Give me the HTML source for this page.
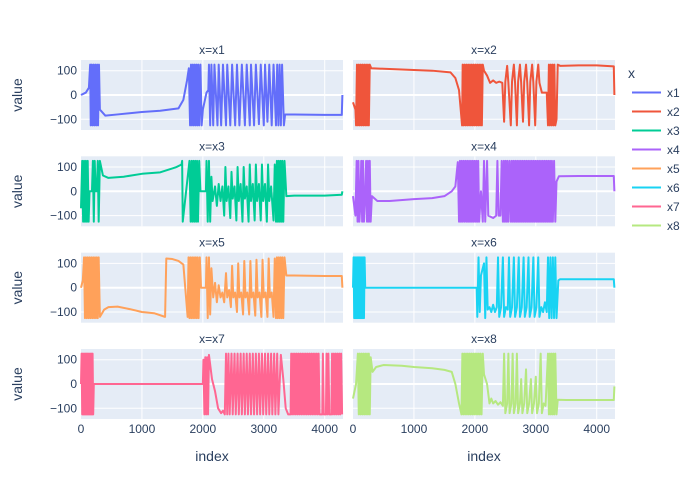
<!DOCTYPE html>
<html><head><meta charset="utf-8">
<style>
body{margin:0;background:#fff;}
svg{display:block;font-family:"Liberation Sans",Arial,sans-serif;}
</style></head>
<body>
<svg id="chart" width="700" height="500"></svg>
<script>
const seriesNames = ["x1","x2","x3","x4","x5","x6","x7","x8"];
const seriesColors = ["#636efa","#EF553B","#00cc96","#ab63fa","#FFA15A","#19d3f3","#FF6692","#B6E880"];
const xTicks = [0,1000,2000,3000,4000];
const yTicks = [-100,0,100];
const yTickLabels = ["−100","0","100"];
const x1Data = [[0,0],[80,10],[130,30],[150,125],[160,-125],[175,125],[190,-125],[205,125],[220,-125],[235,125],[250,-125],[265,125],[280,-125],[295,125],[310,-60],[400,-85],[600,-80],[1000,-70],[1300,-65],[1600,-55],[1680,-20],[1740,60],[1770,110],[1790,-125],[1805,125],[1820,-125],[1835,125],[1850,-125],[1865,125],[1880,-125],[1895,125],[1910,-125],[1925,125],[1940,-125],[1960,125],[1980,-125],[2000,-60],[2060,10],[2090,20],[2100,125],[2120,-125],[2140,125],[2170,-125],[2190,125],[2240,-125],[2260,125],[2300,-125],[2330,125],[2380,-125],[2400,125],[2450,-125],[2480,125],[2530,-125],[2560,125],[2600,-125],[2640,125],[2690,-125],[2720,125],[2770,-125],[2790,125],[2840,-125],[2870,125],[2920,-120],[2950,125],[3000,-125],[3020,125],[3060,-110],[3090,125],[3130,-125],[3160,125],[3200,-125],[3220,125],[3240,-125],[3260,125],[3280,-125],[3300,125],[3330,-125],[3350,-80],[3500,-80],[4000,-82],[4280,-82],[4290,0]];
const x2Data = [[0,-30],[40,-60],[50,-125],[65,125],[80,-125],[95,125],[110,-125],[125,125],[140,-125],[155,125],[170,-125],[185,125],[200,-125],[215,125],[230,-125],[245,125],[260,-125],[275,125],[300,110],[500,108],[1000,103],[1300,100],[1600,93],[1680,70],[1740,20],[1790,-125],[1800,125],[1815,-125],[1830,125],[1845,-125],[1860,125],[1875,-125],[1890,125],[1905,-125],[1920,125],[1935,-125],[1950,125],[1965,-125],[1980,125],[1995,-125],[2010,125],[2025,-125],[2040,125],[2055,-125],[2070,125],[2085,-125],[2100,125],[2115,-125],[2130,125],[2150,100],[2200,80],[2250,50],[2300,60],[2350,50],[2400,55],[2450,50],[2480,-110],[2500,55],[2530,120],[2550,50],[2590,-125],[2610,55],[2640,125],[2660,50],[2690,-125],[2710,55],[2740,125],[2760,50],[2790,-110],[2810,55],[2840,125],[2860,50],[2890,-125],[2910,55],[2940,125],[2960,50],[2990,-125],[3010,55],[3040,125],[3060,50],[3100,10],[3180,10],[3200,-125],[3215,125],[3230,-125],[3245,125],[3260,-125],[3275,125],[3290,-125],[3305,125],[3320,-125],[3340,-100],[3360,125],[3400,120],[3700,122],[4000,122],[4280,118],[4290,0]];
const x3Data = [[0,-70],[20,125],[35,-125],[50,125],[65,-125],[80,125],[95,-125],[110,125],[125,-125],[140,0],[180,0],[195,125],[210,-125],[225,125],[240,0],[260,0],[275,125],[290,-125],[310,125],[360,65],[450,55],[700,60],[1000,72],[1300,78],[1550,98],[1650,110],[1660,125],[1670,-125],[1780,125],[1800,-125],[1815,125],[1830,-125],[1845,125],[1860,-125],[1875,125],[1890,-125],[1905,125],[1920,-125],[1940,125],[1960,0],[2050,0],[2060,125],[2080,-125],[2100,125],[2120,-125],[2140,60],[2160,-40],[2200,20],[2230,-60],[2260,30],[2290,-40],[2320,20],[2350,-100],[2370,100],[2390,-40],[2420,20],[2450,-110],[2470,80],[2490,-30],[2520,20],[2550,-120],[2570,100],[2590,-40],[2620,30],[2650,-125],[2670,100],[2690,-30],[2720,20],[2750,-125],[2770,110],[2790,-40],[2820,30],[2850,-120],[2870,110],[2890,-40],[2920,30],[2950,-120],[2970,110],[2990,-40],[3020,30],[3050,-125],[3070,110],[3090,-40],[3120,20],[3160,-120],[3180,110],[3200,-125],[3215,125],[3230,-125],[3245,125],[3260,-125],[3275,125],[3290,-125],[3305,125],[3320,-125],[3340,125],[3370,-20],[3500,-18],[4000,-18],[4280,-14],[4290,0]];
const x4Data = [[0,-20],[40,-100],[60,125],[75,-125],[90,125],[105,-125],[120,-60],[135,125],[150,-125],[165,125],[180,-125],[200,-20],[215,125],[230,-125],[245,125],[260,-125],[275,125],[290,-125],[310,-20],[400,-40],[600,-40],[1000,-32],[1300,-28],[1500,-20],[1620,0],[1680,20],[1720,120],[1740,-125],[1755,125],[1770,-125],[1785,125],[1800,-125],[1815,125],[1830,-125],[1845,125],[1860,-125],[1875,125],[1890,-125],[1905,125],[1920,-125],[1935,125],[1950,-125],[1965,125],[1980,-125],[1995,125],[2010,-125],[2025,125],[2040,-125],[2055,125],[2070,-125],[2100,0],[2130,-125],[2150,125],[2170,-125],[2200,125],[2220,-100],[2300,-110],[2350,-100],[2370,125],[2390,-100],[2420,-100],[2440,125],[2460,-125],[2475,125],[2490,-125],[2505,125],[2520,-125],[2535,125],[2550,-125],[2570,125],[2590,-125],[2605,125],[2620,-125],[2635,125],[2650,-125],[2665,125],[2680,-125],[2695,125],[2710,-125],[2725,125],[2740,-125],[2755,125],[2770,-125],[2785,125],[2800,-125],[2815,125],[2830,-125],[2845,125],[2860,-125],[2875,125],[2890,-125],[2905,125],[2920,-125],[2935,125],[2950,-125],[2965,125],[2980,-125],[2995,125],[3010,-125],[3025,125],[3040,-125],[3055,125],[3070,-125],[3085,125],[3100,-125],[3115,125],[3130,-125],[3145,125],[3160,-125],[3175,125],[3190,-125],[3205,125],[3220,-125],[3235,125],[3250,-125],[3265,125],[3280,-125],[3300,125],[3320,-125],[3340,40],[3380,62],[3700,63],[4000,63],[4280,63],[4290,0]];
const x5Data = [[0,0],[30,30],[50,125],[65,-125],[80,125],[95,-125],[110,125],[125,-125],[140,125],[155,-125],[170,125],[185,-125],[200,125],[215,-125],[230,125],[245,-125],[260,125],[275,-125],[290,125],[310,-120],[380,-90],[450,-80],[600,-78],[800,-88],[1000,-100],[1200,-105],[1380,-120],[1400,120],[1500,118],[1600,110],[1680,95],[1750,-120],[1765,125],[1780,-125],[1795,125],[1810,-125],[1825,125],[1840,-125],[1855,125],[1870,-125],[1885,125],[1900,-125],[1915,125],[1930,-125],[1950,125],[1970,0],[2050,0],[2060,125],[2080,-125],[2100,125],[2120,-110],[2140,80],[2170,-40],[2200,20],[2230,-60],[2260,10],[2290,-40],[2320,-20],[2350,-60],[2380,60],[2400,-40],[2430,-10],[2460,-80],[2480,90],[2500,-40],[2530,-20],[2560,-100],[2580,100],[2600,-40],[2630,-20],[2660,-110],[2680,110],[2700,-40],[2730,-20],[2760,-110],[2780,110],[2800,-40],[2830,-20],[2860,-115],[2880,115],[2900,-40],[2930,-20],[2960,-120],[2980,115],[3000,-40],[3030,-20],[3060,-120],[3080,120],[3100,-40],[3130,-20],[3160,-120],[3180,120],[3200,-125],[3215,125],[3230,-125],[3245,125],[3260,-125],[3275,125],[3290,-125],[3305,125],[3320,-125],[3340,125],[3370,50],[3500,50],[4000,48],[4280,48],[4290,0]];
const x6Data = [[0,0],[10,125],[20,-125],[30,125],[40,-125],[50,125],[60,-125],[70,125],[80,-125],[90,125],[100,-125],[110,125],[120,-125],[130,125],[140,-125],[150,125],[160,-125],[170,125],[180,-125],[190,125],[200,0],[600,0],[1000,0],[1500,0],[2030,0],[2040,-120],[2060,125],[2080,-100],[2100,50],[2150,100],[2170,-125],[2190,125],[2210,-90],[2240,-80],[2270,-100],[2300,-70],[2330,-100],[2360,-80],[2380,125],[2400,-120],[2430,-80],[2460,125],[2480,-120],[2510,-80],[2540,-90],[2560,125],[2580,-120],[2610,-80],[2640,125],[2660,-120],[2690,-80],[2720,125],[2740,-120],[2770,-80],[2800,125],[2820,-120],[2850,-80],[2880,125],[2900,-120],[2930,-80],[2960,125],[2980,-120],[3010,-80],[3040,125],[3060,-120],[3090,-80],[3120,-100],[3150,-60],[3180,-100],[3200,125],[3220,-125],[3240,125],[3260,-125],[3280,125],[3300,-125],[3320,125],[3340,-125],[3370,30],[3400,35],[3800,35],[4280,35],[4290,0]];
const x7Data = [[0,0],[10,125],[20,-125],[30,125],[40,-125],[50,125],[60,-125],[70,125],[80,-125],[90,125],[100,-125],[110,125],[120,-125],[130,125],[140,-125],[150,125],[160,-125],[170,125],[180,-125],[190,125],[200,-125],[210,0],[600,0],[1000,0],[1500,0],[2000,0],[2010,100],[2025,-125],[2040,110],[2055,-125],[2070,110],[2085,-125],[2100,120],[2150,20],[2200,-30],[2250,-100],[2300,-120],[2330,-110],[2360,-125],[2380,125],[2400,-125],[2420,125],[2440,-125],[2470,125],[2490,-125],[2520,125],[2540,-125],[2570,125],[2590,-125],[2620,125],[2640,-125],[2670,125],[2690,-125],[2720,125],[2740,-125],[2770,125],[2790,-125],[2820,125],[2840,-125],[2870,125],[2890,-125],[2920,125],[2940,-125],[2970,125],[2990,-125],[3020,125],[3040,-125],[3070,125],[3090,-125],[3120,125],[3140,-125],[3170,125],[3190,-125],[3220,125],[3240,-125],[3280,120],[3320,20],[3360,-100],[3400,-125],[3440,-125],[3450,125],[3465,-125],[3480,125],[3495,-125],[3510,125],[3525,-125],[3540,125],[3555,-125],[3570,125],[3585,-125],[3600,125],[3615,-125],[3630,125],[3645,-125],[3660,125],[3675,-125],[3690,125],[3705,-125],[3720,125],[3735,-125],[3750,125],[3765,-125],[3780,125],[3795,-125],[3810,125],[3825,-125],[3840,125],[3855,-125],[3870,125],[3885,-125],[3900,125],[3915,-125],[3960,-125],[3970,125],[3985,-125],[4020,-125],[4030,125],[4045,-125],[4060,125],[4075,-125],[4110,-125],[4120,125],[4135,-125],[4150,125],[4165,-125],[4180,125],[4195,-125],[4210,125],[4225,-125],[4240,125],[4255,-125],[4270,125],[4285,-125]];
const x8Data = [[0,-60],[50,0],[80,125],[95,-125],[110,125],[125,-125],[140,125],[155,-125],[170,125],[185,-125],[200,125],[215,-125],[230,125],[245,-125],[260,125],[275,-125],[290,110],[320,50],[380,70],[500,78],[800,75],[1000,70],[1300,65],[1500,58],[1620,50],[1680,0],[1740,-80],[1780,-125],[1795,125],[1810,-125],[1825,125],[1840,-125],[1855,125],[1870,-125],[1885,125],[1900,-125],[1915,125],[1930,-125],[1945,125],[1960,-125],[1975,125],[1990,-125],[2005,125],[2020,-125],[2035,125],[2050,-125],[2065,125],[2080,-125],[2095,125],[2110,-125],[2130,125],[2150,40],[2200,0],[2240,-80],[2270,-60],[2300,-80],[2340,-70],[2380,-85],[2420,-75],[2460,-90],[2480,125],[2500,-120],[2530,-80],[2550,125],[2570,-120],[2600,-80],[2620,125],[2640,-120],[2670,-80],[2690,125],[2710,-120],[2740,-80],[2760,20],[2780,-120],[2810,-80],[2840,60],[2860,-120],[2890,-80],[2920,20],[2940,-120],[2970,-80],[3000,30],[3020,-120],[3050,-80],[3080,125],[3100,-120],[3130,-80],[3160,-90],[3200,125],[3215,-125],[3230,125],[3245,-125],[3260,125],[3275,-125],[3290,125],[3305,-125],[3320,125],[3340,-125],[3360,-65],[3500,-66],[4000,-66],[4280,-66],[4290,-10]];
const allData = [x1Data,x2Data,x3Data,x4Data,x5Data,x6Data,x7Data,x8Data];

const NS = "http://www.w3.org/2000/svg";
const svg = document.getElementById("chart");
function mk(tag, attrs, parent){const e=document.createElementNS(NS,tag);for(const k in attrs)e.setAttribute(k,attrs[k]);(parent||svg).appendChild(e);return e;}
const colX = [81, 353], panelW = 262;
const rowY = [60, 156.3, 252.7, 349], panelH = 70;
const xMax = 4300, yMin = -144, yMax = 144;
function xScale(col, v){return colX[col] + v / xMax * panelW;}
function yScale(row, v){return rowY[row] + (yMax - v) / (yMax - yMin) * panelH;}

allData.forEach((data, i) => {
  const col = i % 2, row = Math.floor(i / 2);
  const g = mk("g", {});
  
  
  const bg = mk("rect", {x: colX[col], y: rowY[row], width: panelW, height: panelH, fill: "#E5ECF6"}, g);
  
  
  xTicks.forEach(t => { if (t > 0) { const l = mk("line", {x1: xScale(col,t), x2: xScale(col,t), y1: rowY[row], y2: rowY[row]+panelH, stroke: "#fff", "stroke-width": 1}, g);
    
     }});
  yTicks.forEach(t => { const l = mk("line", {x1: colX[col], x2: colX[col]+panelW, y1: yScale(row,t), y2: yScale(row,t), stroke: "#fff", "stroke-width": t===0?2:1}, g);
    
     });
  const pts = data.map(p => xScale(col,p[0]).toFixed(2) + "," + yScale(row,p[1]).toFixed(2)).join(" ");
  const pl = mk("polyline", {points: pts, fill: "none", stroke: seriesColors[i], "stroke-width": 2, "stroke-linejoin": "round"}, g);
  
  
  const tt = mk("text", {x: colX[col] + panelW/2, y: rowY[row] - 6, "text-anchor": "middle", "font-size": 12, fill: "#2a3f5f"}, g);
  tt.textContent = "x=" + seriesNames[i];
  
  
  if (col === 0) {
    yTicks.forEach((t, k) => { const tx = mk("text", {x: colX[0]-4, y: yScale(row,t)+4, "text-anchor": "end", "font-size": 12, fill: "#2a3f5f"}, g);
      tx.textContent = yTickLabels[k];
      
       });
    const yt = mk("text", {x: 0, y: 0, "text-anchor": "middle", "font-size": 14, fill: "#2a3f5f", transform: "translate(22," + (rowY[row]+panelH/2) + ") rotate(-90)"}, g);
    yt.textContent = "value";
    
    
  }
  if (row === 3) {
    xTicks.forEach(t => { const tx = mk("text", {x: xScale(col,t), y: rowY[3]+panelH+14, "text-anchor": "middle", "font-size": 12, fill: "#2a3f5f"}, g);
      tx.textContent = String(t);
      
       });
    const xt = mk("text", {x: colX[col]+panelW/2, y: 461, "text-anchor": "middle", "font-size": 14, fill: "#2a3f5f"}, g);
    xt.textContent = "index";
    
    
  }
});

const lg = mk("g", {});


const lt = mk("text", {x: 628, y: 78, "font-size": 14, fill: "#2a3f5f"}, lg);
lt.textContent = "x";


seriesNames.forEach((n, i) => {
  const y = 92.5 + i * 19;
  const e = mk("g", {}, lg);
  
  
  mk("line", {x1: 632, x2: 661, y1: y, y2: y, stroke: seriesColors[i], "stroke-width": 2}, e);
  const t = mk("text", {x: 667, y: y + 4.5, "font-size": 12, fill: "#2a3f5f"}, e);
  t.textContent = n;
});
</script>
</body></html>
